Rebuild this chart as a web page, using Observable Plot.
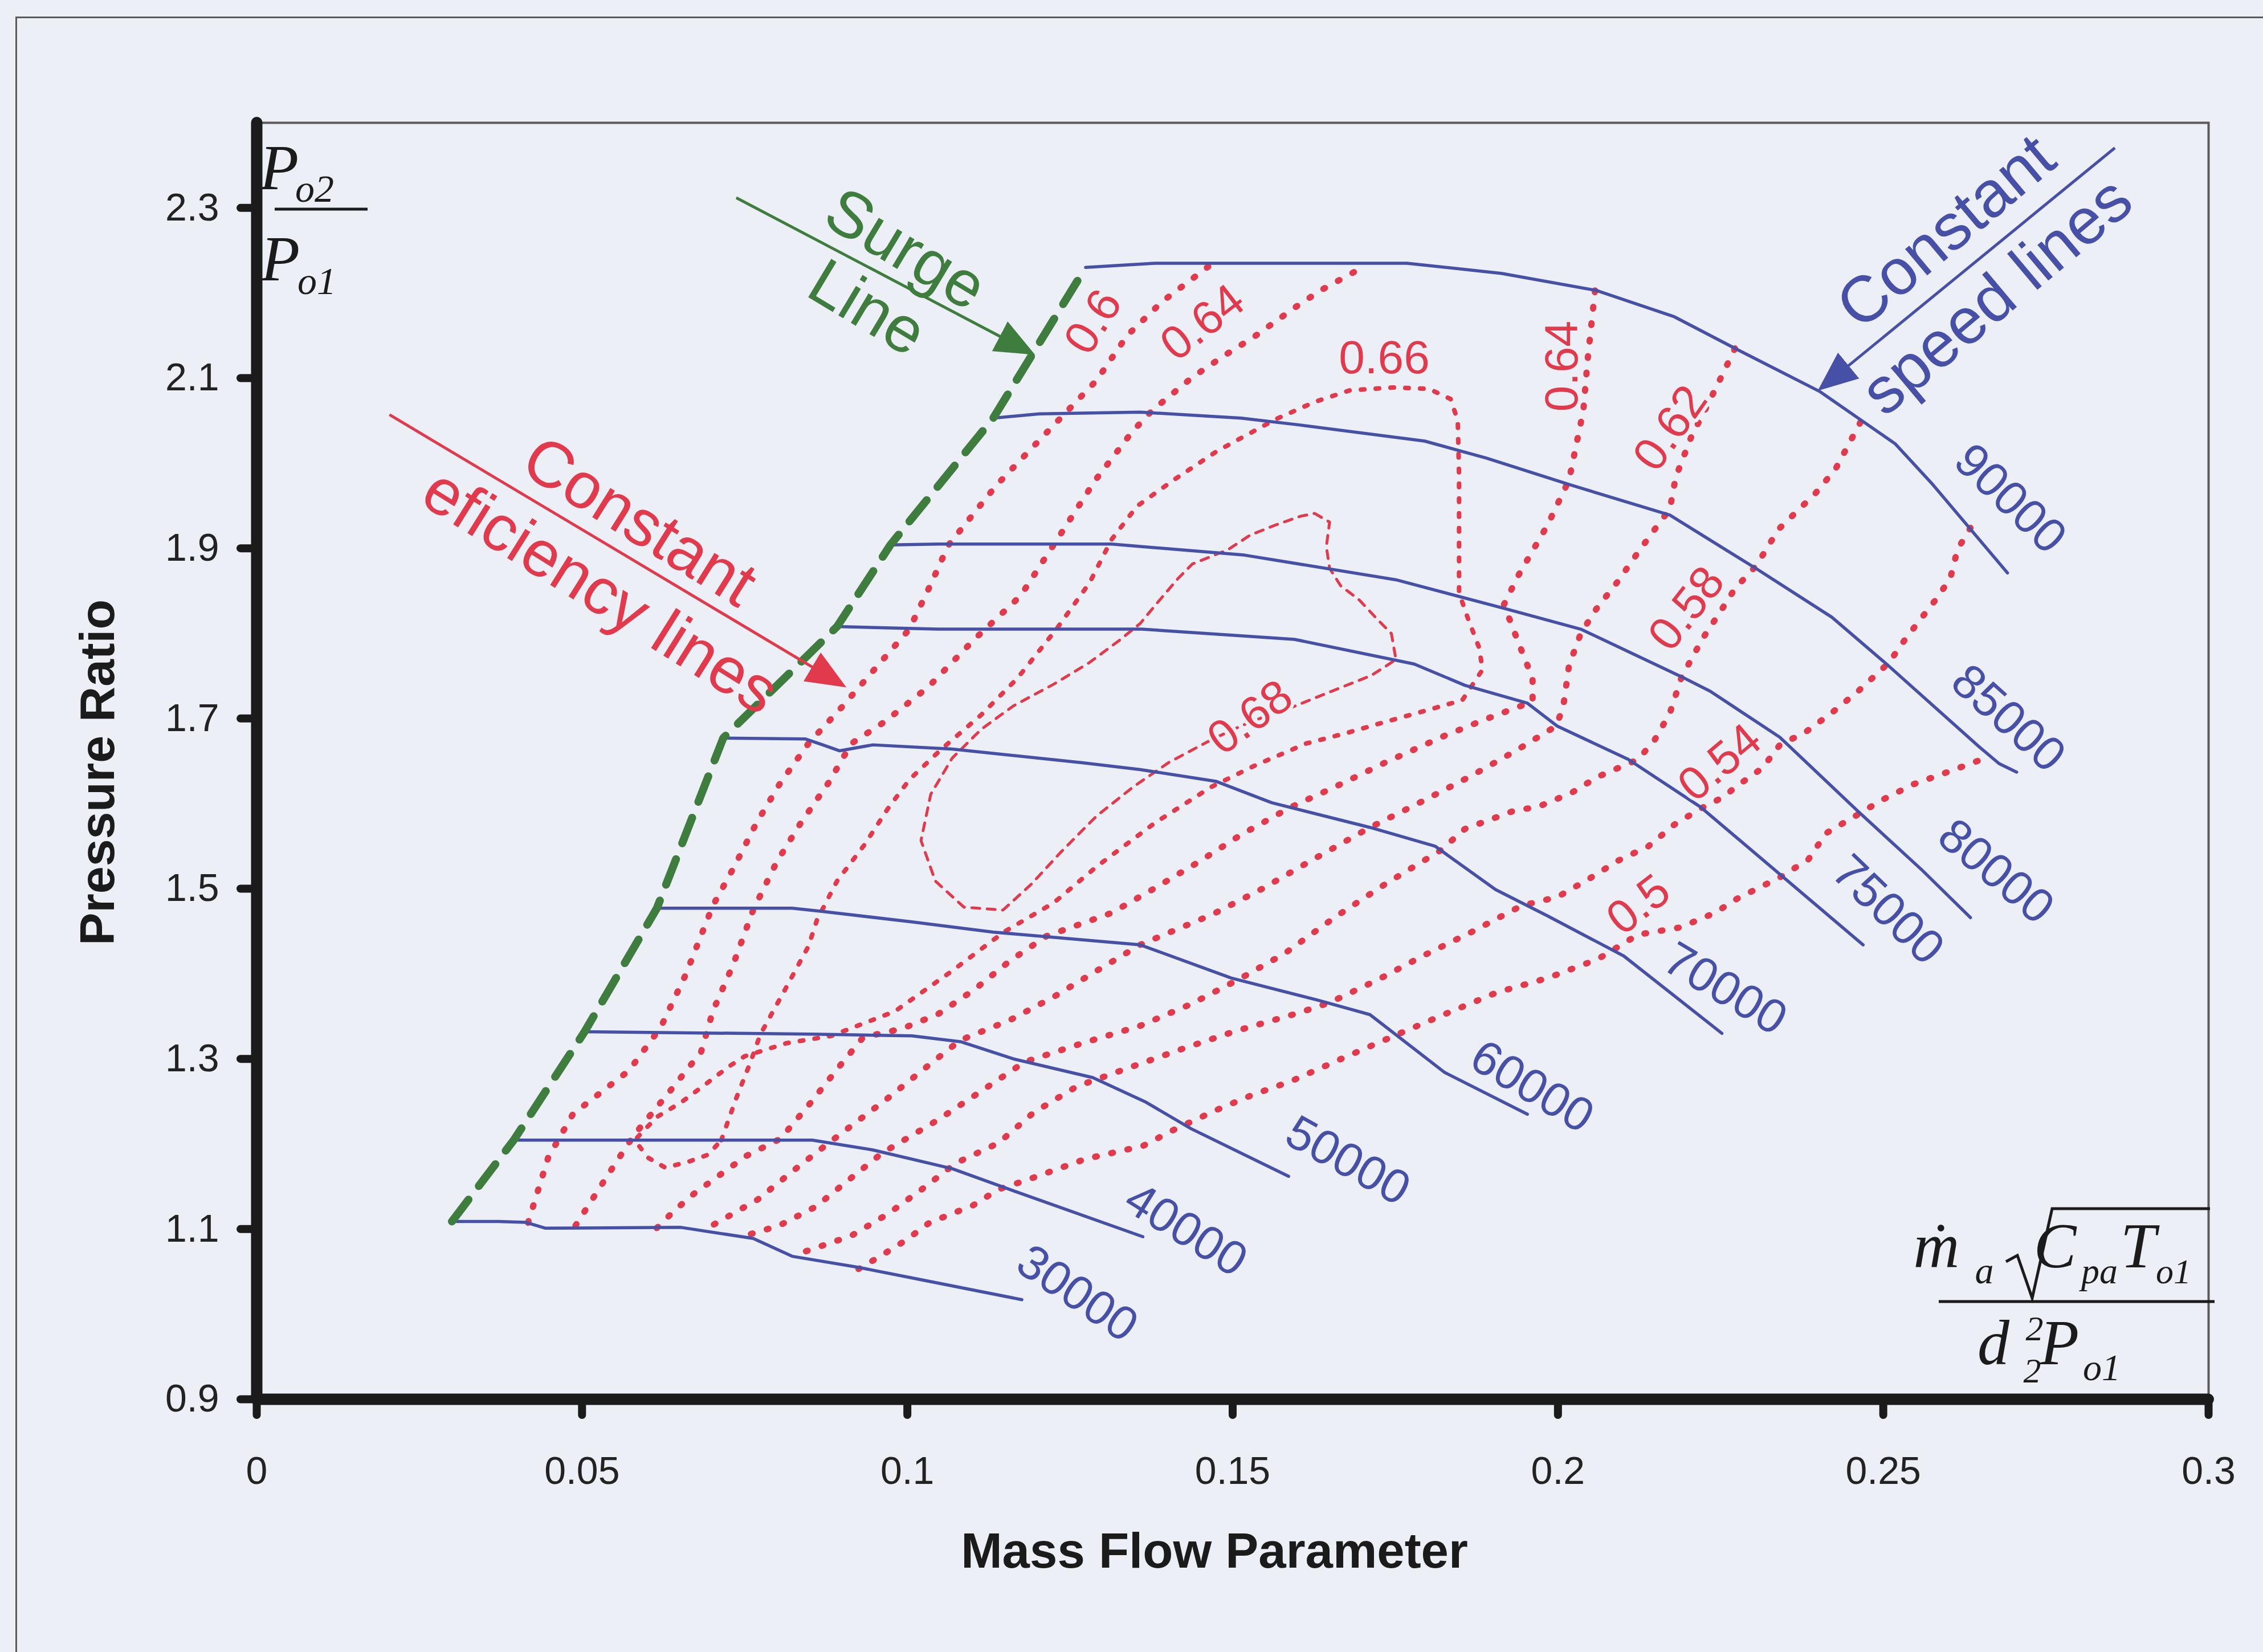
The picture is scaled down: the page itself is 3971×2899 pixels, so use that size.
<!DOCTYPE html>
<html><head><meta charset="utf-8">
<script src="https://cdn.jsdelivr.net/npm/d3@7"></script>
<script src="https://cdn.jsdelivr.net/npm/@observablehq/plot@0.6"></script>
<style>
html,body{margin:0;padding:0;background:#edeff7;overflow:hidden;}
#chart{position:absolute;left:0;top:0;}
#frame{position:absolute;left:27px;top:29px;width:4100px;height:3000px;border-left:3px solid #5a5a5a;border-top:3px solid #5a5a5a;pointer-events:none;}
</style></head>
<body>
<div id="chart"></div><div id="frame"></div>
<script>
// ---------- axis ticks ----------
const xTicks = [0, 0.05, 0.1, 0.15, 0.2, 0.25, 0.3];
const xTickLabels = ["0", "0.05", "0.1", "0.15", "0.2", "0.25", "0.3"];
const yTicks = [0.9, 1.1, 1.3, 1.5, 1.7, 1.9, 2.1, 2.3];
const yTickLabels = ["0.9", "1.1", "1.3", "1.5", "1.7", "1.9", "2.1", "2.3"];

// ---------- constant speed lines (mass flow parameter, pressure ratio) ----------
const speedNames = ["90000", "85000", "80000", "75000", "70000", "60000", "50000", "40000", "30000"];
const s90000 = [[0.1274,2.230],[0.1380,2.235],[0.1602,2.235],[0.1768,2.235],[0.1913,2.223],[0.2059,2.203],[0.2179,2.172],[0.2272,2.135],[0.2403,2.084],[0.2518,2.023],[0.2576,1.975],[0.2691,1.871]];
const s85000 = [[0.1132,2.053],[0.1203,2.058],[0.1358,2.060],[0.1513,2.053],[0.1602,2.045],[0.1795,2.026],[0.1890,2.006],[0.2017,1.975],[0.2172,1.939],[0.2305,1.876],[0.2421,1.819],[0.2505,1.764],[0.2647,1.667],[0.2678,1.647],[0.2705,1.637]];
const s80000 = [[0.0974,1.904],[0.1047,1.905],[0.1314,1.905],[0.1518,1.892],[0.1751,1.863],[0.1919,1.829],[0.2035,1.805],[0.2190,1.749],[0.2234,1.732],[0.2341,1.678],[0.2461,1.591],[0.2558,1.523],[0.2634,1.466]];
const s75000 = [[0.0892,1.808],[0.1047,1.805],[0.1360,1.805],[0.1595,1.793],[0.1779,1.764],[0.1857,1.739],[0.1953,1.718],[0.1999,1.691],[0.2108,1.652],[0.2219,1.596],[0.2341,1.517],[0.2469,1.434]];
const s70000 = [[0.0717,1.677],[0.0843,1.676],[0.0870,1.669],[0.0896,1.662],[0.0947,1.669],[0.1069,1.664],[0.1269,1.648],[0.1358,1.640],[0.1475,1.626],[0.1560,1.601],[0.1711,1.572],[0.1811,1.550],[0.1904,1.499],[0.1984,1.468],[0.2101,1.421],[0.2252,1.330]];
const s60000 = [[0.0615,1.477],[0.0823,1.477],[0.0872,1.473],[0.1007,1.461],[0.1132,1.449],[0.1358,1.434],[0.1498,1.395],[0.1631,1.369],[0.1711,1.352],[0.1826,1.284],[0.1953,1.235]];
const s50000 = [[0.0504,1.332],[0.0854,1.329],[0.1007,1.327],[0.1083,1.320],[0.1163,1.300],[0.1285,1.278],[0.1367,1.249],[0.1436,1.218],[0.1586,1.162]];
const s40000 = [[0.0395,1.2045],[0.0854,1.2045],[0.0947,1.193],[0.1069,1.171],[0.1163,1.145],[0.1362,1.091]];
const s30000 = [[0.0300,1.109],[0.0371,1.109],[0.0413,1.108],[0.0444,1.101],[0.0652,1.102],[0.0763,1.089],[0.0823,1.068],[0.0925,1.055],[0.1018,1.041],[0.1176,1.017]];

// ---------- surge line ----------
const surge = [[0.0300,1.109],[0.0395,1.2045],[0.0504,1.332],[0.0615,1.477],[0.0717,1.677],[0.0892,1.808],[0.0974,1.904],[0.1132,2.053],[0.1274,2.230]];

// ---------- constant efficiency lines ----------
const eff060 = [[0.0417,1.1075],[0.0448,1.1841],[0.0486,1.2351],[0.0572,1.2861],[0.0621,1.3372],[0.0659,1.3984],[0.0701,1.4800],[0.0734,1.5260],[0.0768,1.5770],[0.0805,1.6246],[0.0848,1.6706],[0.0899,1.7131],[0.0947,1.7556],[0.1003,1.8049],[0.1036,1.8577],[0.1063,1.9036],[0.1136,1.9733],[0.1189,2.0159],[0.1240,2.0567],[0.1291,2.0975],[0.1338,2.1502],[0.1391,2.1894],[0.1464,2.2319]];
const eff064L = [[0.0490,1.1041],[0.0537,1.1603],[0.0579,1.2096],[0.0639,1.2657],[0.0683,1.3082],[0.0701,1.3559],[0.0732,1.4103],[0.0763,1.4749],[0.0799,1.5311],[0.0836,1.5770],[0.0879,1.6246],[0.0914,1.6706],[0.0965,1.6961],[0.1032,1.7369],[0.1103,1.7930],[0.1174,1.8441],[0.1236,1.9172],[0.1289,1.9801],[0.1345,2.0363],[0.1376,2.0618],[0.1438,2.1009],[0.1487,2.1264],[0.1533,2.1485],[0.1595,2.1826],[0.1635,2.2030],[0.1704,2.2319]];
const eff064R = [[0.2057,2.2030],[0.2046,2.1247],[0.2039,2.0618],[0.2017,1.9801],[0.1984,1.9274],[0.1939,1.8679],[0.1917,1.8339],[0.1939,1.7896],[0.1961,1.7471],[0.1961,1.7199],[0.1890,1.6995],[0.1824,1.6791],[0.1735,1.6484],[0.1657,1.6195],[0.1589,1.5957],[0.1513,1.5634],[0.1447,1.5311],[0.1380,1.5005],[0.1314,1.4715],[0.1214,1.4443],[0.1158,1.4154],[0.1103,1.3814],[0.1047,1.3525],[0.0992,1.3355],[0.0932,1.3253],[0.0892,1.2878],[0.0848,1.2453],[0.0805,1.2062],[0.0752,1.1858],[0.0712,1.1637],[0.0672,1.1415],[0.0641,1.1211],[0.0612,1.0990]];
const eff062 = [[0.2272,2.1349],[0.2254,2.1060],[0.2230,2.0686],[0.2205,2.0312],[0.2181,1.9835],[0.2172,1.9461],[0.2152,1.9257],[0.2123,1.8951],[0.2092,1.8611],[0.2059,1.8288],[0.2035,1.7998],[0.2017,1.7624],[0.2008,1.7131],[0.1997,1.6910],[0.1935,1.6620],[0.1868,1.6331],[0.1791,1.6025],[0.1711,1.5719],[0.1624,1.5345],[0.1547,1.5005],[0.1469,1.4698],[0.1358,1.4341],[0.1291,1.4035],[0.1225,1.3729],[0.1158,1.3457],[0.1081,1.3218],[0.1025,1.2878],[0.0970,1.2538],[0.0879,1.2011],[0.0825,1.1688],[0.0770,1.1347],[0.0688,1.0990]];
const eff058 = [[0.2465,2.0482],[0.2427,1.9937],[0.2396,1.9648],[0.2339,1.9223],[0.2305,1.8798],[0.2272,1.8526],[0.2248,1.8236],[0.2223,1.7947],[0.2190,1.7488],[0.2172,1.7063],[0.2148,1.6740],[0.2123,1.6518],[0.2061,1.6314],[0.2021,1.6127],[0.1968,1.5957],[0.1935,1.5923],[0.1857,1.5702],[0.1819,1.5447],[0.1735,1.5056],[0.1657,1.4664],[0.1580,1.4239],[0.1509,1.3933],[0.1436,1.3644],[0.1358,1.3389],[0.1269,1.3184],[0.1180,1.2963],[0.1114,1.2623],[0.1047,1.2283],[0.0961,1.1892],[0.0914,1.1603],[0.0859,1.1262],[0.0803,1.1041],[0.0743,1.0905]];
const eff054 = [[0.2634,1.9240],[0.2614,1.8985],[0.2603,1.8645],[0.2580,1.8390],[0.2554,1.8134],[0.2532,1.7913],[0.2509,1.7658],[0.2461,1.7318],[0.2423,1.7080],[0.2381,1.6842],[0.2341,1.6689],[0.2314,1.6416],[0.2276,1.6212],[0.2254,1.6076],[0.2219,1.5940],[0.2179,1.5753],[0.2139,1.5498],[0.2092,1.5328],[0.2046,1.5107],[0.1999,1.4902],[0.1944,1.4800],[0.1868,1.4494],[0.1791,1.4205],[0.1724,1.3933],[0.1649,1.3661],[0.1602,1.3542],[0.1502,1.3321],[0.1422,1.3116],[0.1334,1.2878],[0.1260,1.2674],[0.1194,1.2368],[0.1140,1.2011],[0.1074,1.1773],[0.1025,1.1483],[0.0970,1.1177],[0.0914,1.0922],[0.0823,1.0684]];
const eff050 = [[0.2645,1.6501],[0.2603,1.6382],[0.2547,1.6229],[0.2498,1.6042],[0.2461,1.5872],[0.2412,1.5651],[0.2385,1.5345],[0.2343,1.5141],[0.2276,1.4885],[0.2241,1.4715],[0.2188,1.4545],[0.2123,1.4460],[0.2061,1.4171],[0.1984,1.3950],[0.1906,1.3780],[0.1826,1.3525],[0.1748,1.3270],[0.1671,1.3014],[0.1591,1.2742],[0.1529,1.2572],[0.1476,1.2402],[0.1409,1.2164],[0.1362,1.1977],[0.1274,1.1824],[0.1187,1.1586],[0.1140,1.1466],[0.1101,1.1279],[0.1034,1.1075],[0.0998,1.0871],[0.0959,1.0684],[0.0925,1.0531]];
const eff066 = [[0.0714,1.2045],[0.0737,1.2538],[0.0759,1.2963],[0.0774,1.3287],[0.0812,1.3814],[0.0848,1.4324],[0.0861,1.4630],[0.0892,1.5090],[0.0934,1.5515],[0.0970,1.5940],[0.1003,1.6280],[0.1052,1.6637],[0.1114,1.7046],[0.1169,1.7471],[0.1229,1.8049],[0.1280,1.8594],[0.1314,1.9104],[0.1353,1.9495],[0.1409,1.9801],[0.1476,2.0142],[0.1566,2.0516],[0.1626,2.0720],[0.1680,2.0856],[0.1746,2.0890],[0.1802,2.0873],[0.1835,2.0754],[0.1846,2.0499],[0.1848,1.9852],[0.1848,1.9172],[0.1848,1.8475],[0.1862,1.8168],[0.1879,1.7828],[0.1884,1.7573],[0.1853,1.7216],[0.1799,1.7097],[0.1735,1.6961],[0.1673,1.6825],[0.1613,1.6706],[0.1535,1.6450],[0.1467,1.6195],[0.1380,1.5770],[0.1291,1.5260],[0.1225,1.4834],[0.1149,1.4494],[0.1069,1.4035],[0.0981,1.3559],[0.0883,1.3270],[0.0814,1.3184],[0.0750,1.3031],[0.0726,1.2912],[0.0688,1.2691],[0.0652,1.2487],[0.0615,1.2317],[0.0581,1.2045],[0.0601,1.1841],[0.0628,1.1722],[0.0663,1.1790],[0.0694,1.1875],[0.0714,1.2045]];
const eff068 = [[0.1626,1.9410],[0.1649,1.9308],[0.1644,1.9019],[0.1649,1.8764],[0.1666,1.8560],[0.1695,1.8390],[0.1722,1.8168],[0.1744,1.7998],[0.1751,1.7692],[0.1713,1.7505],[0.1657,1.7335],[0.1591,1.7131],[0.1527,1.6961],[0.1469,1.6757],[0.1402,1.6484],[0.1347,1.6195],[0.1291,1.5855],[0.1236,1.5430],[0.1191,1.5056],[0.1147,1.4749],[0.1087,1.4783],[0.1043,1.5090],[0.1021,1.5566],[0.1036,1.6110],[0.1069,1.6535],[0.1114,1.6876],[0.1163,1.7148],[0.1225,1.7403],[0.1280,1.7658],[0.1325,1.7913],[0.1358,1.8117],[0.1382,1.8339],[0.1416,1.8645],[0.1438,1.8815],[0.1493,1.8985],[0.1527,1.9155],[0.1566,1.9274],[0.1604,1.9376],[0.1626,1.9410]];

// ---------- labels ----------
const speedLabelX = [0.2695, 0.2692, 0.2673, 0.2507, 0.2257, 0.1960, 0.1677, 0.1428, 0.1261];
const speedLabelY = [1.958, 1.700, 1.520, 1.475, 1.382, 1.267, 1.180, 1.099, 1.024];
const speedLabelRot = [44, 42, 40, 44, 31, 31, 29, 32, 34];

const effLabels = ["0.6", "0.64", "0.66", "0.64", "0.62", "0.58", "0.54", "0.5", "0.68"];
const effLabelX = [0.1286, 0.1454, 0.1733, 0.2007, 0.2173, 0.2198, 0.2249, 0.2124, 0.1527];
const effLabelY = [2.166, 2.165, 2.123, 2.114, 2.041, 1.829, 1.648, 1.481, 1.701];
const effLabelRot = [-58, -38, 0, -90, -55, -52, -40, -38, -36];

const noteText = ["Surge", "Line", "Constant", "eficiency lines", "Constant", "speed lines"];
const noteX = [0.0997, 0.0938, 0.0588, 0.0528, 0.2597, 0.2675];
const noteY = [2.251, 2.182, 1.931, 1.849, 2.2715, 2.196];
const noteRot = [31, 31, 32, 32, -40, -40];
const noteColor = ["#3f7d3f", "#3f7d3f", "#e03a4c", "#e03a4c", "#4550a6", "#4550a6"];

const arrowX1 = [0.0737, 0.0204, 0.2856];
const arrowY1 = [2.312, 2.057, 2.3705];
const arrowX2 = [0.1191, 0.0901, 0.2404];
const arrowY2 = [2.1295, 1.739, 2.088];
const arrowColor = ["#3f7d3f", "#e03a4c", "#4550a6"];

// ---------- build tables ----------
const BLUE = "#4550a6", RED = "#e03a4c", GREEN = "#3f7d3f", BG = "#edeff7", INK = "#1b1b1b";
const rows = (series, names) => series.flatMap((pts, i) => pts.map(([x, y]) => ({x, y, name: names[i]})));
const speedRows = rows([s90000, s85000, s80000, s75000, s70000, s60000, s50000, s40000, s30000], speedNames);
const effRows = rows([eff060, eff064L, eff064R, eff062, eff058, eff054, eff050], ["0.6", "0.64L", "0.64R", "0.62", "0.58", "0.54", "0.5"]);
const loop66Rows = rows([eff066], ["0.66"]);
const loop68Rows = rows([eff068], ["0.68"]);
const surgeRows = rows([surge], ["surge"]);
const speedLabelRows = speedNames.map((t, i) => ({t, x: speedLabelX[i], y: speedLabelY[i], r: speedLabelRot[i]}));
const effLabelRows = effLabels.map((t, i) => ({t, x: effLabelX[i], y: effLabelY[i], r: effLabelRot[i]}));
const noteRows = noteText.map((t, i) => ({t, x: noteX[i], y: noteY[i], r: noteRot[i], c: noteColor[i]}));
const arrowRows = arrowColor.map((c, i) => ({x1: arrowX1[i], y1: arrowY1[i], x2: arrowX2[i], y2: arrowY2[i], c}));

function headMarker(color) {
  const m = d3.create("svg:marker")
    .attr("viewBox", "0 -5 10 10").attr("refX", 9).attr("refY", 0)
    .attr("markerWidth", 14).attr("markerHeight", 14).attr("orient", "auto")
    .attr("fill", color).attr("stroke", "none");
  m.append("path").attr("d", "M0,-4.2L10,0L0,4.2Z");
  return m.node();
}

function build(useCustomMarker) {
  const arrowMarks = arrowRows.map(a => Plot.link([a], {
    x1: "x1", y1: "y1", x2: "x2", y2: "y2", stroke: a.c, strokeWidth: 5,
    markerEnd: useCustomMarker ? headMarker : "arrow"
  }));
  return Plot.plot({
    width: 3971, height: 2899,
    marginLeft: 450, marginRight: 96, marginTop: 215, marginBottom: 444,
    x: {domain: [0, 0.3]},
    y: {domain: [0.9, 2.4]},
    style: {background: "transparent", color: "#222", fontFamily: "'Liberation Sans', Arial, sans-serif"},
    marks: [
      Plot.frame({stroke: "#5a5a5a", strokeWidth: 4}),
      Plot.line(effRows, {x: "x", y: "y", z: "name", stroke: RED, strokeWidth: 11, strokeDasharray: "3,26", strokeLinecap: "round", strokeLinejoin: "round"}),
      Plot.line(loop66Rows, {x: "x", y: "y", stroke: RED, strokeWidth: 8, strokeDasharray: "6,20", strokeLinecap: "round"}),
      Plot.line(loop68Rows, {x: "x", y: "y", stroke: RED, strokeWidth: 5, strokeDasharray: "14,13"}),
      Plot.line(speedRows, {x: "x", y: "y", z: "name", stroke: BLUE, strokeWidth: 5.5, strokeLinejoin: "round"}),
      Plot.line(surgeRows, {x: "x", y: "y", stroke: GREEN, strokeWidth: 14, strokeDasharray: "48,30"}),
      Plot.text(effLabelRows, {x: "x", y: "y", text: "t", rotate: "r", fill: RED, fontSize: 82, stroke: BG, strokeWidth: 12, textAnchor: "middle", lineAnchor: "middle"}),
      Plot.text(speedLabelRows, {x: "x", y: "y", text: "t", rotate: "r", fill: BLUE, fontSize: 84, stroke: BG, strokeWidth: 8, textAnchor: "middle", lineAnchor: "middle"}),
      ...arrowMarks,
      Plot.text(noteRows, {x: "x", y: "y", text: "t", rotate: "r", fill: "c", fontSize: 114, textAnchor: "middle", lineAnchor: "middle"}),
      Plot.ruleX([0], {stroke: INK, strokeWidth: 20, strokeLinecap: "round"}),
      Plot.ruleY([0.9], {stroke: INK, strokeWidth: 20, strokeLinecap: "round"}),
      Plot.axisX(xTicks, {tickSize: 28, tickPadding: 72, fontSize: 68, strokeWidth: 14, strokeLinecap: "round", stroke: INK, label: null, tickFormat: d => xTickLabels[xTicks.indexOf(d)]}),
      Plot.axisY(yTicks, {tickSize: 28, tickPadding: 38, fontSize: 68, strokeWidth: 14, strokeLinecap: "round", stroke: INK, label: null, tickFormat: d => yTickLabels[yTicks.indexOf(d)]}),
      Plot.text(["Pressure Ratio"], {frameAnchor: "left", dx: -278, dy: 20, rotate: -90, fontSize: 86, fontWeight: "bold", fill: "#1b1b1b", textAnchor: "middle", lineAnchor: "middle"}),
      Plot.text(["Mass Flow Parameter"], {frameAnchor: "bottom", dx: -32, dy: 268, fontSize: 87, fontWeight: "bold", fill: "#1b1b1b", textAnchor: "middle", lineAnchor: "middle"})
    ]
  });
}

let chart;
try { chart = build(true); } catch (e) { chart = build(false); }
document.getElementById("chart").appendChild(chart);

// ---------- formula annotations (real text) ----------
const svg = d3.select(chart);
const g = svg.append("g")
  .attr("font-family", "'Liberation Serif', 'Times New Roman', serif")
  .attr("font-style", "italic").attr("fill", "#1b1b1b");
function txt(x, y, size, s) { g.append("text").attr("x", x).attr("y", y).style("font-size", size + "px").text(s); }
function ln(x1, y1, x2, y2) { g.append("line").attr("x1", x1).attr("y1", y1).attr("x2", x2).attr("y2", y2).attr("stroke", "#1b1b1b").attr("stroke-width", 5); }
// P_o2 / P_o1
txt(490, 332, 112, "P"); txt(552, 354, 68, "o2");
ln(482, 367, 645, 367);
txt(492, 492, 112, "P"); txt(556, 516, 68, "o1");
// m_a sqrt(C_pa T_o1) / d_2^2 P_o1
txt(3398, 2224, 112, "ṁ"); txt(3482, 2252, 66, "a");
g.append("path").attr("d", "M3520,2214 L3540,2203 L3566,2278 L3601,2121 L3878,2121")
  .attr("fill", "none").attr("stroke", "#1b1b1b").attr("stroke-width", 5).attr("stroke-linejoin", "miter");
txt(3606, 2224, 112, "C"); txt(3684, 2252, 64, "pa");
txt(3752, 2224, 112, "T"); txt(3814, 2252, 62, "o1");
ln(3402, 2284, 3886, 2284);
txt(3498, 2394, 112, "d"); txt(3566, 2426, 62, "2"); txt(3570, 2352, 62, "2");
txt(3614, 2394, 112, "P"); txt(3688, 2422, 66, "o1");
</script>
</body></html>
